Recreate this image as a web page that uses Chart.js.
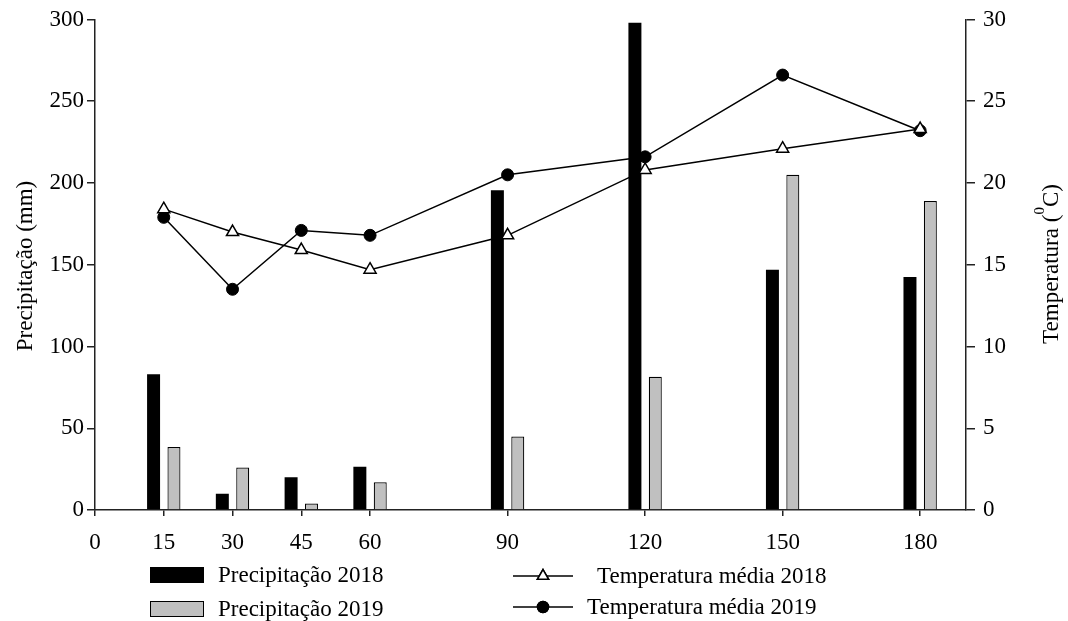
<!DOCTYPE html>
<html>
<head>
<meta charset="utf-8">
<script src="https://cdn.jsdelivr.net/npm/chart.js@4.4.1/dist/chart.umd.min.js"></script>
<style>
  html, body { margin: 0; padding: 0; background: #fff; }
  canvas { display: block; }
</style>
</head>
<body>
<canvas id="chart" width="1068" height="621"></canvas>
<script>
// days after sowing
const days = [15, 30, 45, 60, 90, 120, 150, 180];
const xTicks = [0, 15, 30, 45, 60, 90, 120, 150, 180];

// rainfall (mm)
const prec2018 = [83, 10, 20, 26.5, 195.5, 298, 147, 142.5];
const prec2019 = [38.5, 26, 4, 17, 45, 81.5, 205, 189];

// mean temperature (°C)
const temp2018 = [18.4, 17.0, 15.9, 14.7, 16.8, 20.8, 22.1, 23.3];
const temp2019 = [17.9, 13.5, 17.1, 16.8, 20.5, 21.6, 26.6, 23.2];

const FONT = '"Liberation Serif", "Times New Roman", serif';
const FS = 23;
const AXIS = '#222';

const pts = (ys) => days.map((d, i) => ({ x: d, y: ys[i] }));

// axis titles + two-column legend under the x axis
const decorations = {
  id: 'decorations',
  afterDraw(chart, args, opts) {
    const ctx = chart.ctx;
    ctx.save();
    ctx.fillStyle = '#000';
    ctx.strokeStyle = '#000';

    // left title
    ctx.font = `${FS}px ${FONT}`;
    ctx.textBaseline = 'alphabetic';
    ctx.textAlign = 'center';
    ctx.save();
    ctx.translate(32, 266);
    ctx.rotate(-Math.PI / 2);
    ctx.fillText('Precipitação (mm)', 0, 0);
    ctx.restore();

    // right title with superscript zero
    ctx.save();
    ctx.translate(1058, 264);
    ctx.rotate(-Math.PI / 2);
    const a = 'Temperatura (', b = '0', c = 'C)';
    ctx.font = `${FS}px ${FONT}`;
    const wa = ctx.measureText(a).width, wc = ctx.measureText(c).width;
    ctx.font = `15px ${FONT}`;
    const wb = ctx.measureText(b).width;
    let x = -(wa + wb + wc) / 2;
    ctx.textAlign = 'left';
    ctx.font = `${FS}px ${FONT}`;
    ctx.fillText(a, x, 0); x += wa;
    ctx.font = `15px ${FONT}`;
    ctx.fillText(b, x, -14); x += wb;
    ctx.font = `${FS}px ${FONT}`;
    ctx.fillText(c, x, 0);
    ctx.restore();

    // legend
    ctx.font = `${FS}px ${FONT}`;
    ctx.textAlign = 'left';
    ctx.textBaseline = 'middle';
    opts.items.forEach(item => {
      const ds = chart.data.datasets[item.dataset];
      const y = item.y;
      if (ds.type === 'bar') {
        ctx.fillStyle = ds.backgroundColor;
        ctx.fillRect(item.x, y - 8, 54, 16);
        if (ds.borderWidth) {
          ctx.lineWidth = 1;
          ctx.strokeStyle = ds.borderColor;
          ctx.strokeRect(item.x + 0.5, y - 7.5, 53, 15);
        }
      } else {
        ctx.lineWidth = 1.5;
        ctx.strokeStyle = '#000';
        ctx.beginPath();
        ctx.moveTo(item.x, y);
        ctx.lineTo(item.x + 60, y);
        ctx.stroke();
        Chart.helpers.drawPoint(ctx, {
          pointStyle: ds.pointStyle,
          radius: ds.pointStyle === 'triangle' ? 6.5 : 5.5,
          borderWidth: 1.5
        }, item.x + 30, y);
        ctx.fillStyle = ds.pointBackgroundColor;
        ctx.fill();
        ctx.stroke();
      }
      ctx.fillStyle = '#000';
      ctx.fillText(ds.label, item.textX, y + 1);
    });
    ctx.restore();
  }
};

new Chart(document.getElementById('chart'), {
  data: {
    datasets: [
      {
        type: 'bar', label: 'Precipitação 2018', data: pts(prec2018),
        backgroundColor: '#000', borderWidth: 0, yAxisID: 'y', order: 3,
        categoryPercentage: 0.593, barPercentage: 0.637
      },
      {
        type: 'bar', label: 'Precipitação 2019', data: pts(prec2019),
        backgroundColor: '#c0c0c0', borderColor: '#000', borderWidth: 1.2,
        yAxisID: 'y', order: 3,
        categoryPercentage: 0.593, barPercentage: 0.637
      },
      {
        type: 'line', label: 'Temperatura média 2018', data: pts(temp2018),
        yAxisID: 'y1', order: 0, borderColor: '#000', borderWidth: 1.5,
        pointStyle: 'triangle', pointRadius: 7, pointBorderWidth: 1.5,
        pointBackgroundColor: '#fff', pointBorderColor: '#000', tension: 0
      },
      {
        type: 'line', label: 'Temperatura média 2019', data: pts(temp2019),
        yAxisID: 'y1', order: 1, borderColor: '#000', borderWidth: 1.5,
        pointStyle: 'circle', pointRadius: 6, pointBorderWidth: 1,
        pointBackgroundColor: '#000', pointBorderColor: '#000', tension: 0
      }
    ]
  },
  options: {
    responsive: false,
    animation: false,
    layout: { padding: { top: 18, left: 0, right: 0, bottom: 0 } },
    plugins: {
      legend: { display: false },
      tooltip: { enabled: false },
      decorations: {
        items: [
          { dataset: 0, x: 150, y: 575, textX: 218 },
          { dataset: 1, x: 150, y: 609, textX: 218 },
          { dataset: 2, x: 513, y: 576, textX: 597 },
          { dataset: 3, x: 513, y: 607, textX: 587 }
        ]
      }
    },
    scales: {
      x: {
        type: 'linear', min: 0, max: 190, offset: false,
        afterBuildTicks: (s) => { s.ticks = xTicks.map(v => ({ value: v })); },
        afterFit: (s) => { s.height = 111; },
        grid: { offset: false, drawOnChartArea: false, color: AXIS, lineWidth: 1.5, tickLength: 6 },
        border: { color: AXIS, width: 1.5 },
        ticks: { color: '#000', font: { family: FONT, size: FS }, padding: 13, maxRotation: 0 }
      },
      y: {
        position: 'left', min: 0, max: 300,
        afterFit: (s) => { s.width = 95; },
        grid: { drawOnChartArea: false, color: AXIS, lineWidth: 1.5, tickLength: 8 },
        border: { color: AXIS, width: 1.5 },
        ticks: { stepSize: 50, color: '#000', font: { family: FONT, size: FS, lineHeight: 1 }, padding: 3 }
      },
      y1: {
        position: 'right', min: 0, max: 30,
        afterFit: (s) => { s.width = 102; },
        grid: { drawOnChartArea: false, color: AXIS, lineWidth: 1.5, tickLength: 9 },
        border: { color: AXIS, width: 1.5 },
        ticks: { stepSize: 5, color: '#000', font: { family: FONT, size: FS, lineHeight: 1 }, padding: 8 }
      }
    }
  },
  plugins: [decorations]
});
</script>
</body>
</html>
